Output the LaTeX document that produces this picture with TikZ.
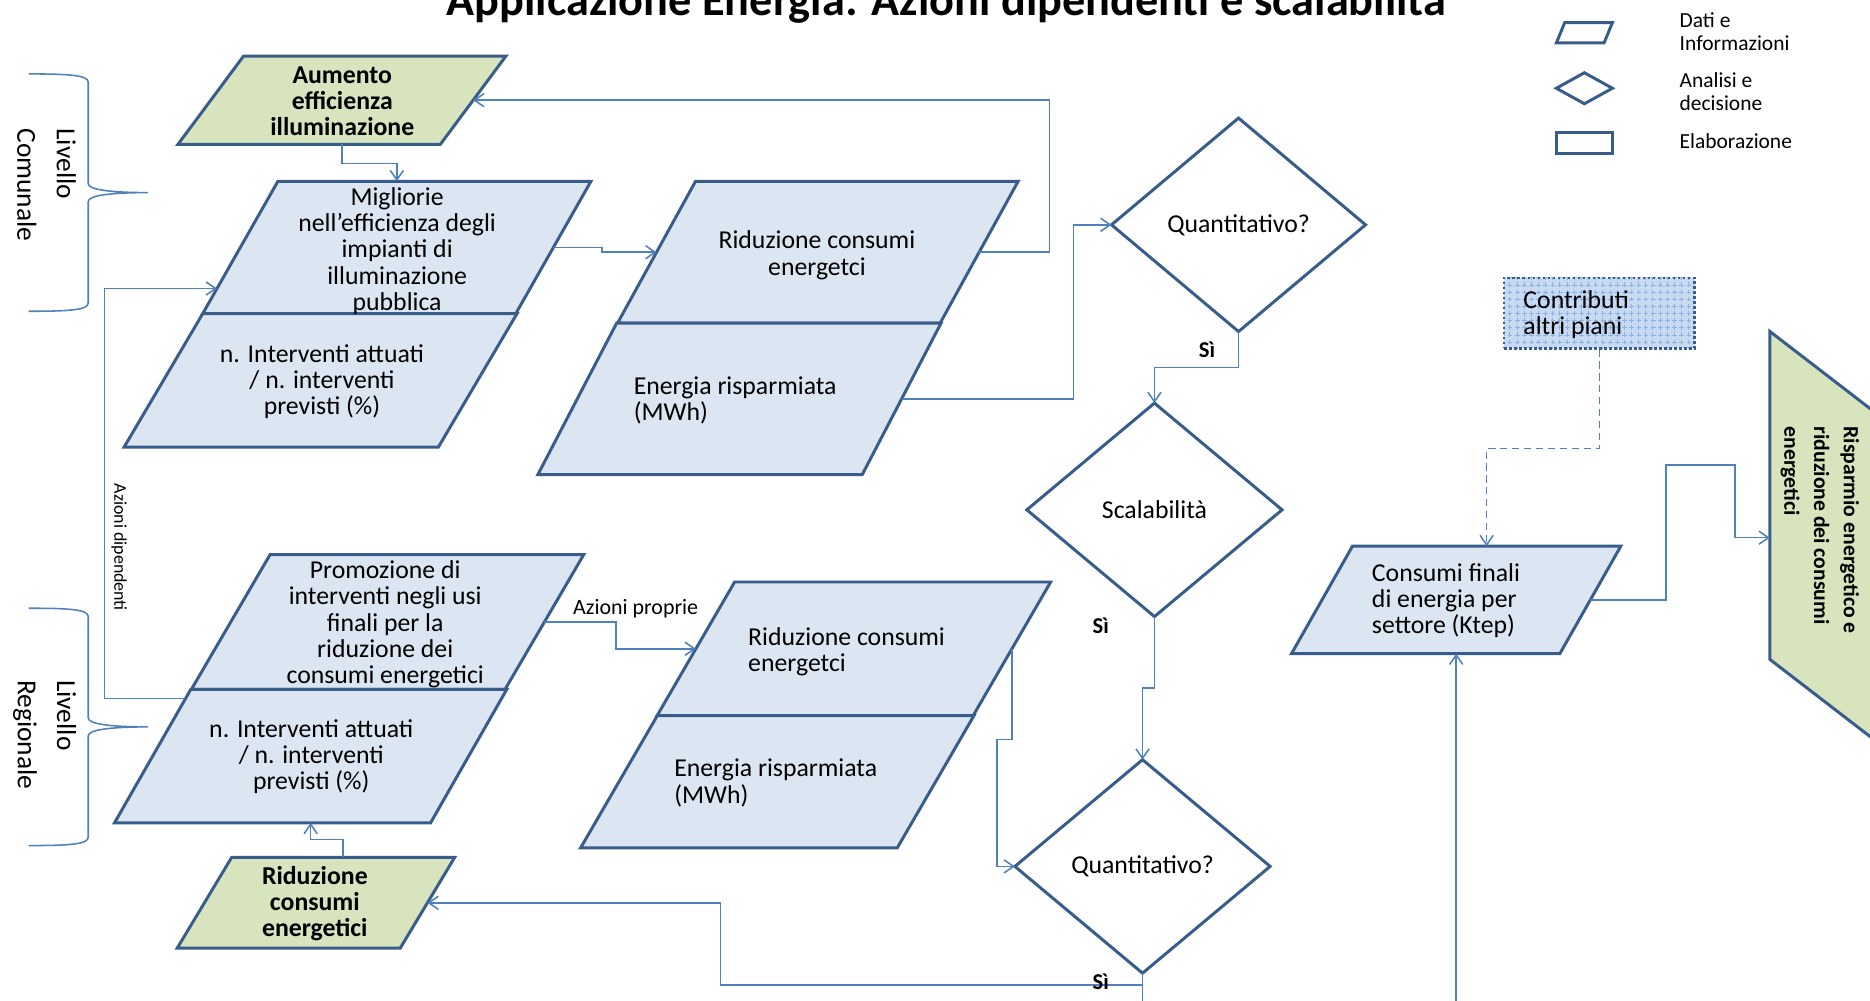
\documentclass[tikz,border=0pt]{standalone}
\usepackage{fontspec}
\setmainfont{Carlito}
\usetikzlibrary{arrows.meta,shapes.geometric,patterns,calc}

\definecolor{shapeedge}{RGB}{56,93,138}
\definecolor{linkblue}{RGB}{79,129,189}
\definecolor{datafill}{RGB}{220,230,242}
\definecolor{goalfill}{RGB}{215,228,189}
\definecolor{extfill}{RGB}{200,218,242}
\definecolor{extgrid}{RGB}{140,178,228}

\newcommand{\fbody}{\fontsize{10.8}{11}\selectfont}
\newcommand{\fgoal}{\fontsize{10.8}{11}\selectfont\bfseries}
\newcommand{\fgoalside}{\fontsize{9.1}{12.5}\selectfont\bfseries}
\newcommand{\fside}{\fontsize{11.5}{16.5}\selectfont}
\newcommand{\flegend}{\fontsize{9}{9.5}\selectfont}
\newcommand{\fsmall}{\fontsize{7.5}{9}\selectfont}
\newcommand{\flabel}{\fontsize{9.2}{10}\selectfont}
\newcommand{\fyes}{\fontsize{9.5}{10}\selectfont\bfseries}
\newcommand{\ftitle}{\fontsize{19.4}{22}\selectfont\bfseries}

\begin{document}
\begin{tikzpicture}[x=0.5pt,y=-0.5pt,
  box/.style={rectangle, draw=shapeedge, line width=1.25pt, inner sep=0pt, outer sep=0pt},
  databox/.style={box, fill=datafill},
  goalbox/.style={box, fill=goalfill},
  decision/.style={diamond, draw=shapeedge, line width=1.25pt, inner sep=0pt, outer sep=0pt, fill=white, font=\fbody},
  conn/.style={draw=linkblue, line width=0.65pt, -{Straight Barb[length=4pt,width=5.5pt]}},
  plainconn/.style={draw=linkblue, line width=0.65pt},
  bracepath/.style={draw=linkblue, line width=0.65pt},
  txt/.style={inner sep=0pt, font=\fbody, align=center},
  txtl/.style={inner sep=0pt, font=\fbody, align=left, anchor=west},
  goaltxt/.style={inner sep=0pt, font=\fgoal, align=center},
  yes/.style={inner sep=0pt, font=\fyes},
  sidelabel/.style={inner sep=0pt, font=\fside, rotate=-90, align=left},
  legendtxt/.style={inner sep=0pt, font=\flegend, align=left, anchor=west},
]
\useasboundingbox (0,0) rectangle (1568,839);
\clip (0,0) rectangle (1568,839);
\fill[white] (0,0) rectangle (1568,839);

% title
\node[anchor=base, inner sep=0pt, font=\ftitle] (title) at (793.5,12.6)
  {Applicazione Energia: Azioni dipendenti e scalabilità};

% level braces and labels
\draw[bracepath] (24,62) .. controls (58,62) and (74,63) .. (74,69) -- (74,154)
  .. controls (74,159) and (92,161.5) .. (124,161.5)
  .. controls (92,161.5) and (74,164) .. (74,169) -- (74,254)
  .. controls (74,260) and (58,261) .. (24,261);
\draw[bracepath] (24,510) .. controls (58,510) and (74,511) .. (74,517) -- (74,602)
  .. controls (74,607) and (92,609.5) .. (124,609.5)
  .. controls (92,609.5) and (74,612) .. (74,617) -- (74,702)
  .. controls (74,708) and (58,709) .. (24,709);
\node[sidelabel] (lvcom) at (39,155) {Livello\\Comunale};
\node[sidelabel] (lvreg) at (37.5,616) {Livello\\Regionale};

% data and goal shapes
\node[goalbox, xslant=0.743, minimum width=110pt, minimum height=37pt] (A) at (286.75,84) {};
\node[databox, xslant=0.568, minimum width=131.25pt, minimum height=55.5pt] (p1u) at (332.75,207.5) {};
\node[databox, xslant=0.589, minimum width=131.75pt, minimum height=56pt] (p1l) at (268.75,319) {};
\node[databox, xslant=0.55, minimum width=135.25pt, minimum height=59.5pt] (r1u) at (685.75,211.5) {};
\node[databox, xslant=0.52, minimum width=136pt, minimum height=63.5pt] (r1l) at (620,334.5) {};
\node[databox, xslant=0.584, minimum width=131.5pt, minimum height=56.5pt] (p2u) at (325,521.5) {};
\node[databox, xslant=0.571, minimum width=132.5pt, minimum height=56pt] (p2l) at (260.5,634) {};
\node[databox, xslant=0.58, minimum width=132.5pt, minimum height=56pt] (r2u) at (716,544) {};
\node[databox, xslant=0.58, minimum width=132.75pt, minimum height=55.5pt] (r2l) at (651.75,655.5) {};
\node[goalbox, xslant=0.6, minimum width=93.5pt, minimum height=38pt] (B) at (264.9,757) {};
\node[databox, xslant=0.567, minimum width=112.5pt, minimum height=45pt] (cons) at (1221,503) {};
\node[goalbox, yslant=-0.77, minimum width=43pt, minimum height=137.5pt] (C) at (1527,448.5) {};

% decisions
\node[decision, minimum width=106.5pt, minimum height=89.5pt] (q1) at (1038.5,188.5) {Quantitativo?};
\node[decision, minimum width=107pt, minimum height=89.5pt] (s) at (968,427.5) {Scalabilità};
\node[decision, minimum width=107pt, minimum height=89.5pt] (q2) at (958,726.5) {Quantitativo?};

% external contributions
\node[rectangle, draw=shapeedge, line width=1.1pt, densely dotted, preaction={fill=extfill},
  pattern=grid, pattern color=extgrid, minimum width=80pt, minimum height=29.5pt,
  inner sep=0pt] (contr) at (1341,262.5) {};
\node[txtl] (contr-t) at (1277,264) {Contributi\\altri piani};

% legend
\node[box, fill=white, xslant=0.41, minimum width=20pt, minimum height=8.5pt] (lgdata) at (1328.5,27.5) {};
\node[decision, minimum width=23.5pt, minimum height=13pt] (lgdec) at (1328.5,74) {};
\node[box, fill=white, minimum width=23.5pt, minimum height=9pt] (lgproc) at (1328.5,120) {};
\node[legendtxt] (lgdata-t) at (1408,26.5) {Dati e\\Informazioni};
\node[legendtxt] (lgdec-t) at (1408,77) {Analisi e\\decisione};
\node[legendtxt] (lgproc-t) at (1408,118) {Elaborazione};

% texts inside the shapes
\node[goaltxt] (A-t) at (287,85) {Aumento\\efficienza\\illuminazione};
\node[txt] (p1u-t) at (333,210.5) {Migliorie\\nell'efficienza degli\\impianti di\\illuminazione\\pubblica};
\node[txt] (p1l-t) at (270,320) {n. Interventi attuati\\/ n. interventi\\previsti (\%)};
\node[txt] (r1u-t) at (685,214) {Riduzione consumi\\energetci};
\node[txtl] (r1l-t) at (531,336) {Energia risparmiata\\(MWh)};
\node[txt] (p2u-t) at (323,523.5) {Promozione di\\interventi negli usi\\finali per la\\riduzione dei\\consumi energetici};
\node[txt] (p2l-t) at (261,634.5) {n. Interventi attuati\\/ n. interventi\\previsti (\%)};
\node[txtl] (r2u-t) at (627,546.5) {Riduzione consumi\\energetci};
\node[txtl] (r2l-t) at (565,656.5) {Energia risparmiata\\(MWh)};
\node[goaltxt] (B-t) at (264,757.5) {Riduzione\\consumi\\energetici};
\node[txtl] (cons-t) at (1150,503.5) {Consumi finali\\di energia per\\settore (Ktep)};
\node[inner sep=0pt, font=\fgoalside, rotate=-90, align=left] (C-t) at (1526,444.5)
  {Risparmio energetico e\\riduzione dei consumi\\energetici};

% connectors
\draw[conn] (A.center |- A.south) -- ++(0,16) -| (p1u.center |- p1u.north);
\draw[conn] (p1u.east) -- ++(41,0) |- (r1u.west);
\draw[conn] (r1u.east) -- ++(59,0) |- (A.east);
\draw[conn] (r1l.east) -- ++(144,0) |- (q1.west);
\draw[conn] (q1.south) -- ++(0,30) -| (s.north);
\node[yes] (yes1) at (1012,293) {Sì};
\draw[conn] (s.south) -- ++(0,60) -| (q2.north);
\node[yes] (yes2) at (923,525) {Sì};
\draw[conn] (p2u.east) -- ++(60,0) |- (r2u.west);
\node[inner sep=0pt, font=\flabel] (azpro) at (533,510) {Azioni proprie};
\draw[conn] (r2u.east) -- ++(0,76) -- ++(-12.5,0) |- (q2.west);
\draw[conn] (q2.south) -- ++(0,10) -- ++(-354,0) |- (B.east);
\node[yes] (yes3) at (923,823) {Sì};
\coordinate (q2out) at (958,850);
\draw[plainconn] (q2.south) -- (q2out);
\coordinate (consin) at (1221,850);
\draw[conn] (consin) -- (cons.center |- cons.south);
\draw[conn, densely dashed] (contr.south) -- ++(0,83) -| (cons.north);
\draw[conn] (cons.east) -- ++(63.5,0) -- ++(0,-113) -- ++(58,0) |- ($(C.north west)!0.629!(C.south west)$);
\draw[conn] (B.north) -- ++(0,-15) -| (p2l.center |- p2l.south);
\draw[conn] ($(p2l.north west)!0.07!(p2l.south west)$) -- ++(-68,0) |- ($(p1u.north west)!0.81!(p1u.south west)$);
\node[inner sep=0pt, font=\fsmall, rotate=-90] (azdip) at (100,459) {Azioni dipendenti};
\end{tikzpicture}
\end{document}
